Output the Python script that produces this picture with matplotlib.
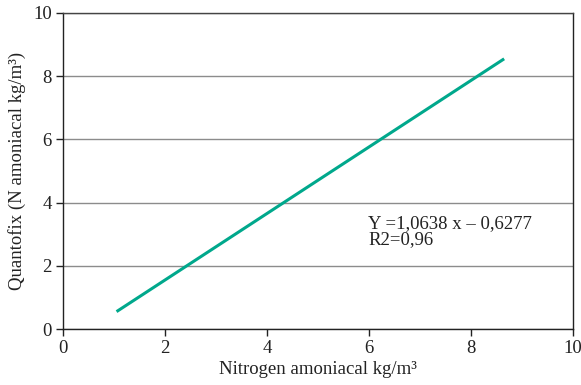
import matplotlib
matplotlib.use("Agg")
import matplotlib.pyplot as plt

x_vals = [1.05, 8.65]
y_vals = [0.55, 8.55]
x_ticks = [0, 2, 4, 6, 8, 10]
y_ticks = [0, 2, 4, 6, 8, 10]
equation_text = "Y =1,0638 x \u2013 0,6277\nR2=0,96"
x_label = "Nitrogen amoniacal kg/m\u00b3"
y_label = "Quantofix (N amoniacal kg/m\u00b3)"

plt.rcParams['font.family'] = ['Liberation Serif', 'DejaVu Serif']

fig = plt.figure(figsize=(5.81, 3.85), dpi=100)
ax = fig.add_axes([63/581, 1-329/385, (573-63)/581, (329-13)/385])

ax.set_xlim(0, 10)
ax.set_ylim(0, 10)
ax.set_xticks(x_ticks)
ax.set_yticks(y_ticks)
ax.yaxis.grid(True, color='#8c8c8c', linewidth=1.0)
ax.set_axisbelow(True)

ax.plot(x_vals, y_vals, color='#00a88c', linewidth=2.2, solid_capstyle='butt')

for s in ['left', 'bottom', 'right', 'top']:
    ax.spines[s].set_color('#222222')
    ax.spines[s].set_linewidth(1.0)
ax.spines['top'].set_color('#444444')

ax.tick_params(axis='both', direction='out', length=5, width=1, labelsize=13.5, colors='#222222', pad=3)

ax.set_xlabel(x_label, fontsize=13.5, color='#222222', labelpad=3)
ax.set_ylabel(y_label, fontsize=13.5, color='#222222', labelpad=5)

ax.text(5.98, 3.6, equation_text, fontsize=13.5, color='#222222', va='top', ha='left', linespacing=0.92)

fig.savefig("out.png", dpi=100)
